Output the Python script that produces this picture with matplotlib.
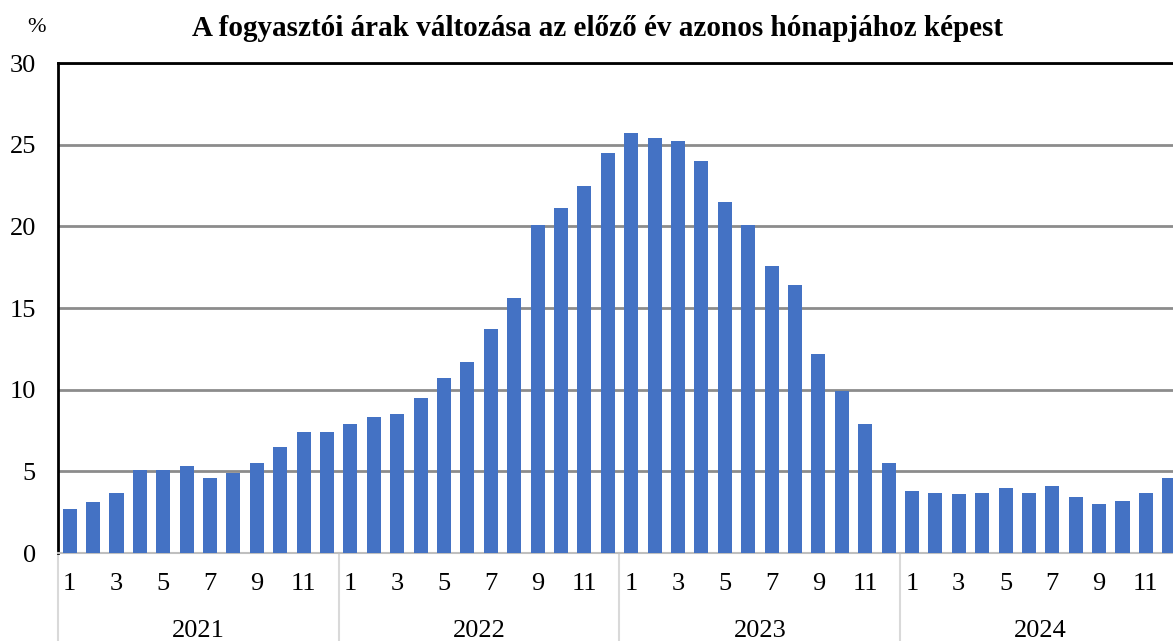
import matplotlib
matplotlib.use("Agg")
import matplotlib.pyplot as plt
import numpy as np

years = ['2021', '2022', '2023', '2024']
month_labels = ['1', '', '3', '', '5', '', '7', '', '9', '', '11', '']
cpi_2021 = [2.7, 3.1, 3.7, 5.1, 5.1, 5.3, 4.6, 4.9, 5.5, 6.5, 7.4, 7.4]
cpi_2022 = [7.9, 8.3, 8.5, 9.5, 10.7, 11.7, 13.7, 15.6, 20.1, 21.1, 22.5, 24.5]
cpi_2023 = [25.7, 25.4, 25.2, 24.0, 21.5, 20.1, 17.6, 16.4, 12.2, 9.9, 7.9, 5.5]
cpi_2024 = [3.8, 3.7, 3.6, 3.7, 4.0, 3.7, 4.1, 3.4, 3.0, 3.2, 3.7, 4.6]
title = 'A fogyasztói árak változása az előző év azonos hónapjához képest'

values = cpi_2021 + cpi_2022 + cpi_2023 + cpi_2024
plt.rcParams['font.family'] = ['Liberation Serif', 'DejaVu Serif']

W, H = 1173, 641
fig = plt.figure(figsize=(W / 100, H / 100), dpi=100)
left, right, top, bottom = 58, 1181, 63, 553
ax = fig.add_axes([left / W, 1 - bottom / H, (right - left) / W, (bottom - top) / H])

x = np.arange(len(values))
ax.bar(x, values, width=0.6, color='#4472C4', zorder=3)
ax.set_xlim(-0.5, len(values) - 0.5)
ax.set_ylim(0, 30)
ax.set_yticks(range(0, 31, 5))
ax.yaxis.grid(True, color='#8c8c8c', linewidth=2, zorder=0)
ax.tick_params(axis='y', length=0, labelsize=19, pad=16)
ax.tick_params(axis='x', length=0)
ax.set_xticks([])

for s in ['top', 'left']:
    ax.spines[s].set_color('black')
    ax.spines[s].set_linewidth(2)
ax.spines['right'].set_visible(False)
ax.spines['bottom'].set_color('#bfbfbf')
ax.spines['bottom'].set_linewidth(1.5)

# category labels below the axis
trans = ax.get_xaxis_transform()
for i, v in enumerate(values):
    lab = month_labels[i % 12]
    if lab:
        ax.text(i, -0.063, lab, transform=trans, ha='center', va='center', fontsize=19)
for k, yr in enumerate(years):
    ax.text(k * 12 + 5.5, -0.16, yr, transform=trans, ha='center', va='center', fontsize=19)
    xs = k * 12 - 0.5
    ax.plot([xs, xs], [0, -0.2], transform=trans, color='#d9d9d9', linewidth=1.5, clip_on=False)

fig.text(37 / W, 1 - 28 / H, '%', ha='center', va='center', fontsize=16)
fig.text(598 / W, 1 - 28 / H, title, ha='center', va='center', fontsize=21, fontweight='bold')

fig.savefig('out.png', dpi=100)
